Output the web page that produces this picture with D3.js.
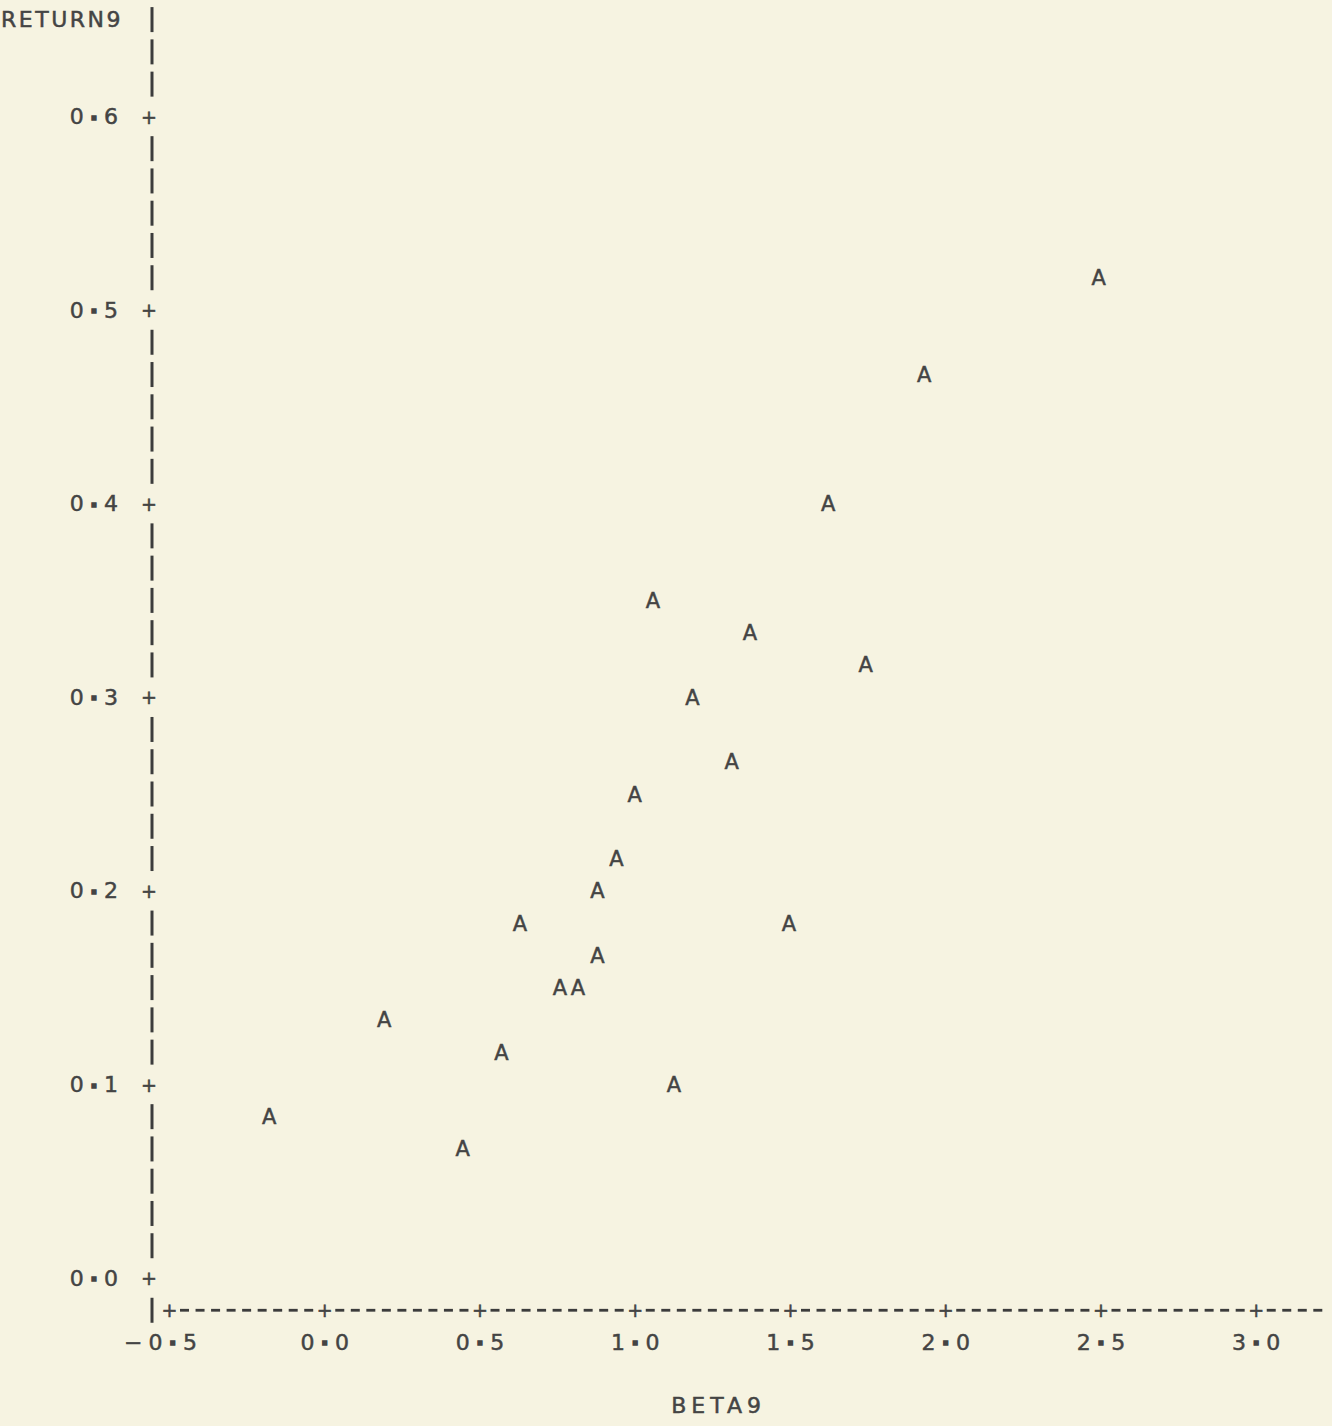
<!DOCTYPE html>
<html>
<head>
<meta charset="utf-8">
<script src="https://cdn.jsdelivr.net/npm/d3@7"></script>
<style>
  body { margin: 0; background: #f6f3e1; }
  svg { display: block; }
  text { font-family: "DejaVu Sans", sans-serif; fill: #444; stroke: #444; stroke-width: 0.5; }
</style>
</head>
<body>
<div id="chart"></div>
<script>
/* BETA9 vs RETURN9 printer plot */

// values (each point is an "A")
const betaValues   = [-0.177, 0.446, 0.193, 0.571, 1.126, 0.759, 0.817, 0.880, 0.630, 1.497, 0.880,
                      0.941, 1.000, 1.312, 1.186, 1.744, 1.371, 1.059, 1.623, 1.932, 2.494];
const returnValues = [0.0833, 0.0667, 0.1333, 0.1167, 0.1000, 0.1500, 0.1500, 0.1667, 0.1833, 0.1833, 0.2000,
                      0.2167, 0.2500, 0.2667, 0.3000, 0.3167, 0.3333, 0.3500, 0.4000, 0.4667, 0.5167];
const xTicks = [-0.5, 0.0, 0.5, 1.0, 1.5, 2.0, 2.5, 3.0];
const yTicks = [0.0, 0.1, 0.2, 0.3, 0.4, 0.5, 0.6];
const xLabel = "BETA9", yLabel = "RETURN9";

const width = 1332, height = 1426;

let data = betaValues.map((b, i) => ({beta: b, ret: returnValues[i]}));

let svg = d3.select("#chart")
    .append("svg")
    .attr("width", width)
    .attr("height", height);

// scales: printer columns are 0.05 wide, rows are 1/60 high
let x = d3.scaleLinear()
    .domain([-0.5, 3.0])
    .range([169, 1255.7]);

let y = d3.scaleLinear()
    .domain([0, 0.6])
    .range([1278, 116.4]);

const axisX = 152;          // where the "|" column sits
const rowStep = 0.1 / 6;    // one printer line
const colStep = 0.05;       // one printer column

// tick labels with the printed (raised, heavy) dot
function printedLabel(sel) {
    sel.each(function(d) {
        let t = d3.select(this);
        let s = d.toFixed(1).replace("-", "\u2212");
        let parts = s.split(".");
        t.text(null);
        t.append("tspan").text(parts[0]);
        t.append("tspan").attr("dy", "-0.2em").attr("font-weight", "bold").attr("stroke-width", 1.5).text(".");
        t.append("tspan").attr("dy", "0.2em").text(parts[1]);
    });
}

// y axis: "|" on each line, "+" at each tick
let rows = d3.range(-1, 40).map(i => i * rowStep);
let isTick = v => yTicks.some(t => Math.abs(t - v) < 1e-6);

svg.append("g")
    .selectAll("line")
    .data(rows.filter(v => !isTick(v)))
    .join("line")
    .attr("x1", axisX).attr("x2", axisX)
    .attr("y1", d => y(d) - 12.5)
    .attr("y2", d => y(d) + 12.5)
    .attr("stroke", "#3c3c3c")
    .attr("stroke-width", 3);

let yAxis = svg.append("g")
    .attr("transform", `translate(${axisX},0)`)
    .call(d3.axisLeft(y).tickValues(yTicks).tickSize(0).tickPadding(28))
    .call(g => g.select(".domain").remove());

yAxis.selectAll(".tick text")
    .attr("font-size", 22)
    .attr("letter-spacing", 6)
    .attr("fill", "#444")
    .attr("font-family", "DejaVu Sans")
    .call(printedLabel);

yAxis.selectAll(".tick")
    .append("text")
    .attr("x", -3)
    .attr("dy", "0.35em")
    .attr("text-anchor", "middle")
    .attr("font-size", 19)
    .attr("stroke-width", 1)
    .text("+");

// x axis: "-" on each column, "+" at each tick, on the line below 0.0
let xRowY = y(-rowStep);
let cols = d3.range(0, 75).map(i => -0.5 + i * colStep);
let isXTick = v => xTicks.some(t => Math.abs(t - v) < 1e-6);

svg.append("g")
    .selectAll("line")
    .data(cols.filter(v => !isXTick(v)))
    .join("line")
    .attr("x1", d => x(d) - 4.5)
    .attr("x2", d => x(d) + 4.5)
    .attr("y1", xRowY).attr("y2", xRowY)
    .attr("stroke", "#3c3c3c")
    .attr("stroke-width", 2.8);

let xAxis = svg.append("g")
    .attr("transform", `translate(0,${xRowY})`)
    .call(d3.axisBottom(x).tickValues(xTicks).tickSize(0).tickPadding(24))
    .call(g => g.select(".domain").remove());

xAxis.selectAll(".tick text")
    .attr("font-size", 22)
    .attr("letter-spacing", 6)
    .attr("dx", d => d < 0 ? -6 : 3)
    .attr("fill", "#444")
    .attr("font-family", "DejaVu Sans")
    .call(printedLabel);

xAxis.selectAll(".tick")
    .append("text")
    .attr("dy", "0.35em")
    .attr("text-anchor", "middle")
    .attr("font-size", 19)
    .attr("stroke-width", 1)
    .text("+");

// axis titles
svg.append("text")
    .attr("x", 123)
    .attr("y", y(0.65))
    .attr("dy", "0.35em")
    .attr("text-anchor", "end")
    .attr("font-size", 22)
    .attr("letter-spacing", 2.5)
    .text(yLabel);

svg.append("text")
    .attr("x", x(1.27))
    .attr("y", 1405)
    .attr("dy", "0.35em")
    .attr("text-anchor", "middle")
    .attr("font-size", 22)
    .attr("letter-spacing", 5)
    .text(xLabel);

// the points
svg.selectAll(".pt")
    .data(data)
    .join("text")
    .attr("class", "pt")
    .attr("x", d => x(d.beta))
    .attr("y", d => y(d.ret))
    .attr("dy", "0.36em")
    .attr("text-anchor", "middle")
    .attr("font-size", 21)
    .attr("fill", "#4a4a4a")
    .attr("stroke", "#4a4a4a")
    .text("A");
</script>
</body>
</html>
